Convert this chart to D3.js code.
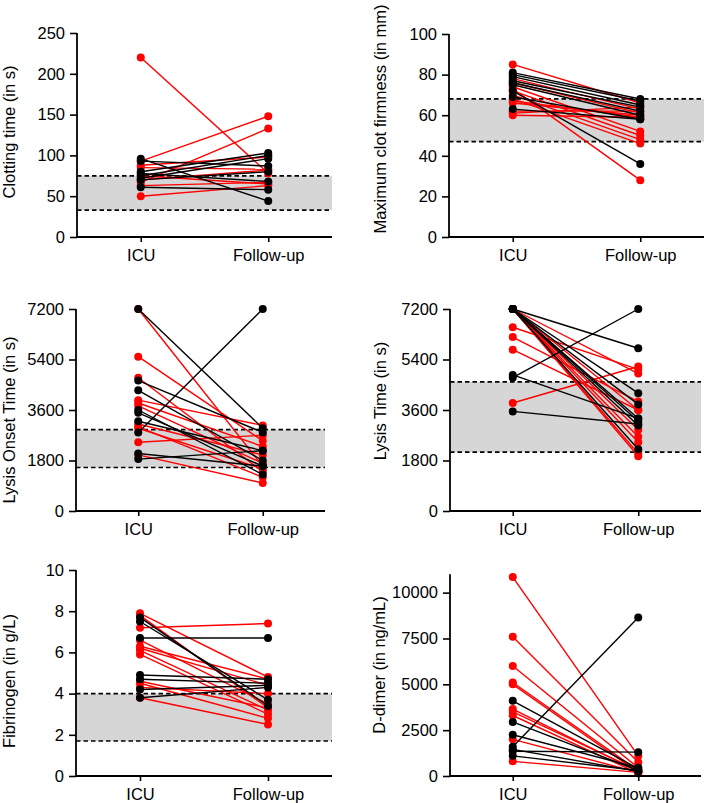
<!DOCTYPE html>
<html><head><meta charset="utf-8">
<script src="https://cdn.jsdelivr.net/npm/d3@7"></script>
<style>
html,body{margin:0;padding:0;background:#fff;}
svg{display:block;font-family:"Liberation Sans",Arial,Helvetica,sans-serif;}
</style></head>
<body><svg id="c" width="709" height="803"></svg>
<script>
const categories = ["ICU", "Follow-up"];

// Panel 1: Clotting time
const ctRedICU = [220, 93, 67, 50, 88, 85, 70, 75, 63];
const ctRedFU  = [78, 148, 133, 63, 98, 83, 82, 65, 67];
const ctBlackICU = [96, 80, 75, 72, 61, 93, 78, 70];
const ctBlackFU  = [44, 103, 100, 96, 58, 87, 68, 80];
const ctTicks = [0, 50, 100, 150, 200, 250];

// Panel 2: Maximum clot firmness
const mcfRedICU = [85, 73, 78, 76, 74, 72, 70, 68, 67, 66, 62, 60, 61];
const mcfRedFU  = [66, 28, 63, 61, 52, 50, 48, 46, 59, 60, 62, 59, 64];
const mcfBlackICU = [81, 80, 79, 77, 76, 75, 72, 69, 63];
const mcfBlackFU  = [68, 67, 65, 64, 62, 60, 36, 58, 58];
const mcfTicks = [0, 20, 40, 60, 80, 100];

// Panel 3: Lysis onset time
const loRedICU = [7200, 5500, 4750, 3950, 3850, 3750, 3100, 2950, 2450, 2000, 3000];
const loRedFU  = [1600, 2500, 1400, 3050, 2300, 1700, 2000, 1500, 2700, 1000, 1200];
const loBlackICU = [7200, 2800, 4650, 4300, 3600, 3500, 3200, 2050, 1850];
const loBlackFU  = [2950, 7200, 2800, 1800, 1300, 1600, 2150, 1600, 2150];
const lysisTicks = [0, 1800, 3600, 5400, 7200];

// Panel 4: Lysis time
const ltRedICU = [3850, 6550, 6200, 5750, 7200, 7200, 7200, 7200, 7200, 7200, 7200];
const ltRedFU  = [5150, 5050, 3900, 3600, 4900, 3600, 2900, 2650, 2450, 2050, 1950];
const ltBlackICU = [7200, 4750, 4850, 3550, 7200, 7200, 7200, 7200, 7200, 7200];
const ltBlackFU  = [5800, 7200, 3300, 3100, 4200, 3800, 3300, 3200, 2200, 3050];

// Panel 5: Fibrinogen
const fibRedICU = [7.2, 7.9, 7.8, 6.6, 6.3, 6.2, 6.1, 5.9, 4.6, 4.5, 3.8, 4.3];
const fibRedFU  = [7.4, 4.8, 3.3, 3.5, 4.7, 4.4, 3.2, 3.0, 3.3, 2.8, 2.5, 4.0];
const fibBlackICU = [6.7, 7.7, 7.5, 4.9, 4.7, 4.2, 3.8];
const fibBlackFU  = [6.7, 3.4, 3.7, 4.7, 4.5, 4.4, 4.3];
const fibTicks = [0, 2, 4, 6, 8, 10];

// Panel 6: D-dimer
const ddRedICU = [10850, 7600, 6000, 5100, 5000, 3650, 3500, 3300, 2000, 800];
const ddRedFU  = [1100, 750, 450, 300, 200, 250, 300, 150, 200, 200];
const ddBlackICU = [1600, 1350, 4100, 2950, 2250, 1450, 1100];
const ddBlackFU  = [8650, 1300, 400, 300, 450, 250, 300];
const ddTicks = [0, 2500, 5000, 7500, 10000];

// Reference ranges (shaded band)
const refLow  = [33, 47, 1550, 2100, 1.7, null];
const refHigh = [75, 68, 2900, 4600, 4.0, null];

const titles = ["Clotting time (in s)", "Maximum clot firmness (in mm)", "Lysis Onset Time (in s)",
                "Lysis Time (in s)", "Fibrinogen (in g/L)", "D-dimer (in ng/mL)"];

const panels = [
  {red:[ctRedICU, ctRedFU], black:[ctBlackICU, ctBlackFU], ticks:ctTicks, max:250},
  {red:[mcfRedICU, mcfRedFU], black:[mcfBlackICU, mcfBlackFU], ticks:mcfTicks, max:100},
  {red:[loRedICU, loRedFU], black:[loBlackICU, loBlackFU], ticks:lysisTicks, max:7200},
  {red:[ltRedICU, ltRedFU], black:[ltBlackICU, ltBlackFU], ticks:lysisTicks, max:7200},
  {red:[fibRedICU, fibRedFU], black:[fibBlackICU, fibBlackFU], ticks:fibTicks, max:10},
  {red:[ddRedICU, ddRedFU], black:[ddBlackICU, ddBlackFU], ticks:ddTicks, max:11000}
];

// layout: axis x-left, x-right, y-top, y-bottom, title baseline x, title center y
const layout = [
  {x0:77, x1:332, y0:33, y1:237, tx:15, ty:132},
  {x0:449, x1:704, y0:34, y1:237, tx:386, ty:119},
  {x0:76, x1:325, y0:309, y1:511, tx:15, ty:420},
  {x0:450, x1:701, y0:309, y1:511, tx:386, ty:401},
  {x0:76, x1:332, y0:570, y1:776, tx:15, ty:681},
  {x0:450, x1:701, y0:574.3, y1:776, tx:385, ty:665}
];

const svg = d3.select("#c");
const FS = "16.5px";

panels.forEach((p, i) => {
  const L = layout[i];
  const g = svg.append("g");
  const x = d3.scalePoint().domain(categories).range([L.x0, L.x1]).padding(0.5);
  const y = d3.scaleLinear().domain([0, p.max]).range([L.y1, L.y0]);

  // band
  if (refLow[i] != null) {
    g.append("rect").attr("x", L.x0).attr("width", L.x1 - L.x0)
      .attr("y", y(refHigh[i])).attr("height", y(refLow[i]) - y(refHigh[i]))
      .attr("fill", "#d6d6d6");
    [refLow[i], refHigh[i]].forEach(v => {
      g.append("line").attr("x1", L.x0).attr("x2", L.x1).attr("y1", y(v)).attr("y2", y(v))
        .attr("stroke", "#000").attr("stroke-width", 1.7).attr("stroke-dasharray", "4.5,3");
    });
  }

  // series
  [["red", "#ff0000"], ["black", "#000000"]].forEach(([key, col]) => {
    const [a, b] = p[key];
    const pairs = a.map((v, k) => [v, b[k]]);
    g.append("g").selectAll("line").data(pairs).join("line")
      .attr("x1", x("ICU")).attr("x2", x("Follow-up"))
      .attr("y1", d => y(d[0])).attr("y2", d => y(d[1]))
      .attr("stroke", col).attr("stroke-width", 1.4);
    const pts = [];
    pairs.forEach(d => { pts.push(["ICU", d[0]]); pts.push(["Follow-up", d[1]]); });
    g.append("g").selectAll("circle").data(pts).join("circle")
      .attr("cx", d => x(d[0])).attr("cy", d => y(d[1])).attr("r", 4)
      .attr("fill", col);
  });

  // axes
  const ya = g.append("g").attr("transform", `translate(${L.x0},0)`)
    .call(d3.axisLeft(y).tickValues(p.ticks).tickFormat(d3.format("d")).tickSize(7).tickSizeOuter(0).tickPadding(5));
  const xa = g.append("g").attr("transform", `translate(0,${L.y1})`)
    .call(d3.axisBottom(x).tickSize(5).tickSizeOuter(0).tickPadding(7));
  [ya, xa].forEach(a => {
    a.selectAll("path.domain").attr("stroke-width", 1.8);
    a.selectAll(".tick line").attr("stroke-width", 1.6);
    a.selectAll("text").attr("font-size", FS).attr("fill", "#000")
      .attr("font-family", "'Liberation Sans', Arial, sans-serif");
  });
  xa.select("path.domain").attr("d", `M${L.x0},0H${L.x1}`);
  ya.select("path.domain").attr("d", `M0,${L.y1}V${L.y0}`);

  // title
  g.append("text").attr("transform", `translate(${L.tx},${L.ty}) rotate(-90)`)
    .attr("text-anchor", "middle").attr("font-size", FS).attr("fill", "#000")
    .text(titles[i]);
});
</script></body></html>
